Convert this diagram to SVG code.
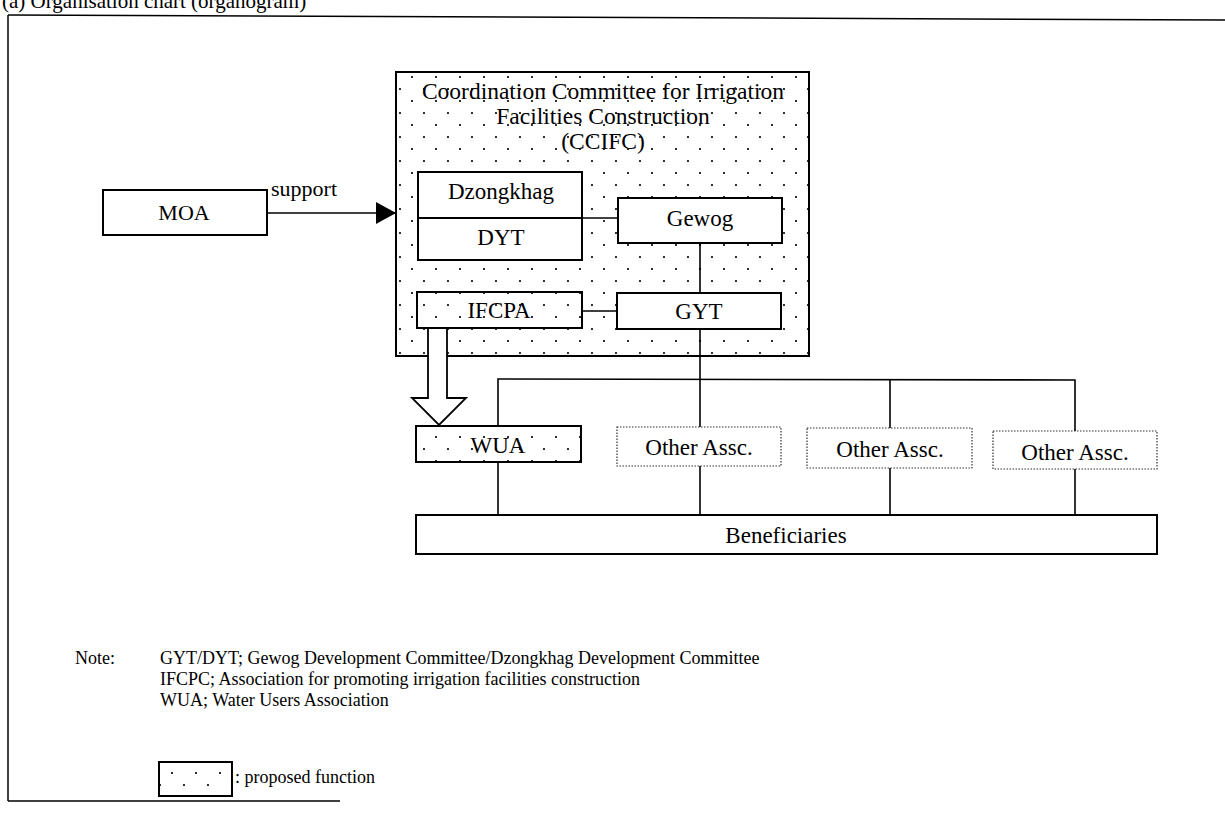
<svg xmlns="http://www.w3.org/2000/svg" width="1225" height="819" viewBox="0 0 1225 819">
  <defs>
    <pattern id="dots" x="0" y="0" width="24" height="24" patternUnits="userSpaceOnUse">
      <rect width="24" height="24" fill="#fff"/>
      <circle cx="4" cy="5" r="1.1" fill="#000"/>
      <circle cx="16" cy="17" r="1.1" fill="#000"/>
    </pattern>
    <marker id="solidHead" markerWidth="20" markerHeight="22" refX="20" refY="11" orient="auto" markerUnits="userSpaceOnUse">
      <path d="M0,0 L20,11 L0,22 Z" fill="#000"/>
    </marker>
  </defs>
  <style>
    text { font-family: "Liberation Serif", "Times New Roman", serif; fill: #000; }
    .lbl { font-size: 23px; text-anchor: middle; }
    .box { fill: #fff; stroke: #000; stroke-width: 2; }
    .prop { fill: url(#dots); stroke: #000; stroke-width: 2; }
    .other { fill: #fff; stroke: #333; stroke-width: 1.2; stroke-dasharray: 1.5 1.5; }
    .conn { fill: none; stroke: #000; stroke-width: 1.6; }
    .frame { fill: none; stroke: #000; stroke-width: 1.5; }
    .note { font-size: 18px; }
  </style>

  <rect width="1225" height="819" fill="#fff"/>

  <!-- page title (cut at top) and frame -->
  <text x="2" y="8" style="font-size:21px">(a) Organisation chart (organogram)</text>
  <g id="frame">
    <path class="frame" d="M8,15 L1225,20"/>
    <path class="frame" d="M8,15 L8,801"/>
    <path class="frame" d="M8,801 L340,801"/>
  </g>

  <!-- CCIFC container -->
  <g id="ccifc">
    <rect class="prop" x="396" y="72" width="413" height="284"/>
    <text class="lbl" x="603" y="99" style="font-size:23.5px">Coordination Committee for Irrigation</text>
    <text class="lbl" x="603" y="124" style="font-size:23.5px">Facilities Construction</text>
    <text class="lbl" x="603" y="149" style="font-size:23.5px">(CCIFC)</text>
  </g>

  <g id="connectors">
    <path class="conn" d="M267,213 L396,213" marker-end="url(#solidHead)"/>
    <path class="conn" d="M582,218 L618,218"/>
    <path class="conn" d="M700,243 L700,293"/>
    <path class="conn" d="M582,311 L617,311"/>
    <path class="conn" d="M700,329 L700,427"/>
    <path class="conn" d="M498,426 L498,379 L1075,380 L1075,431"/>
    <path class="conn" d="M890,380 L890,428"/>
    <path class="conn" d="M498,462 L498,514"/>
    <path class="conn" d="M700,466 L700,515"/>
    <path class="conn" d="M890,468 L890,516"/>
    <path class="conn" d="M1075,469 L1075,517"/>
    <!-- hollow block arrow IFCPA -> WUA -->
    <path d="M428,328 L428,398 L412,398 L439,425 L466,398 L447,398 L447,328" fill="#fff" stroke="#000" stroke-width="1.8"/>
  </g>

  <g id="moa">
    <rect class="box" x="103" y="190" width="164" height="45"/>
    <text class="lbl" x="184" y="220" style="font-size:22px">MOA</text>
    <text x="271" y="196" style="font-size:22px">support</text>
  </g>

  <g id="dzongkhag-dyt">
    <rect class="box" x="418" y="172" width="164" height="88"/>
    <line x1="418" y1="218" x2="582" y2="218" stroke="#000" stroke-width="2"/>
    <text class="lbl" x="501" y="199">Dzongkhag</text>
    <text class="lbl" x="501" y="245">DYT</text>
  </g>

  <g id="gewog">
    <rect class="box" x="618" y="198" width="164" height="45"/>
    <text class="lbl" x="700" y="226">Gewog</text>
  </g>

  <g id="ifcpa">
    <rect class="prop" x="417" y="292" width="165" height="36"/>
    <text class="lbl" x="499" y="318">IFCPA</text>
  </g>

  <g id="gyt">
    <rect class="box" x="617" y="293" width="164" height="36"/>
    <text class="lbl" x="699" y="319">GYT</text>
  </g>

  <g id="wua">
    <rect class="prop" x="416" y="426" width="165" height="36"/>
    <text class="lbl" x="498" y="453">WUA</text>
  </g>

  <g id="other1">
    <rect class="other" x="617" y="427" width="164" height="39"/>
    <text class="lbl" x="699" y="455">Other Assc.</text>
  </g>

  <g id="other2">
    <rect class="other" x="807" y="428" width="165" height="40"/>
    <text class="lbl" x="890" y="457">Other Assc.</text>
  </g>

  <g id="other3">
    <rect class="other" x="993" y="431" width="164" height="38"/>
    <text class="lbl" x="1075" y="460">Other Assc.</text>
  </g>

  <g id="beneficiaries">
    <rect class="box" x="416" y="515" width="741" height="39"/>
    <text class="lbl" x="786" y="543">Beneficiaries</text>
  </g>

  <g id="notes">
    <text class="note" x="75" y="664">Note:</text>
    <text class="note" x="160" y="664">GYT/DYT; Gewog Development Committee/Dzongkhag Development Committee</text>
    <text class="note" x="160" y="685">IFCPC; Association for promoting irrigation facilities construction</text>
    <text class="note" x="160" y="706">WUA; Water Users Association</text>
  </g>

  <g id="legend">
    <rect class="prop" x="159" y="762" width="73" height="34" stroke-width="1.8"/>
    <text class="note" x="235" y="783">: proposed function</text>
  </g>
</svg>
